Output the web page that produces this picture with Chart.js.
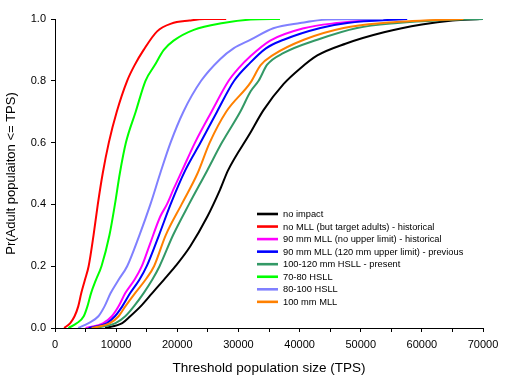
<!DOCTYPE html>
<html><head><meta charset="utf-8">
<script src="https://cdn.jsdelivr.net/npm/chart.js@4.4.0/dist/chart.umd.min.js"></script>
<style>html,body{margin:0;padding:0;background:#fff;}#wrap{width:511px;height:383px;}</style>
</head><body><div id="wrap"><canvas id="c" width="511" height="383"></canvas></div>
<script>
// ---- data ----
const seriesNames = [
  'no impact',
  'no MLL (but target adults) - historical',
  '90 mm MLL (no upper limit) - historical',
  '90 mm MLL (120 mm upper limit) - previous',
  '100-120 mm HSLL - present',
  '70-80 HSLL',
  '80-100 HSLL',
  '100 mm MLL'
];
const noImpactX = [8200, 11000, 12300, 14000, 15900, 17800, 19700, 22100, 24900, 27000, 28300, 31900, 34100, 37400, 40100, 42900, 47500, 53800, 60000, 65000, 69500];
const noImpactY = [0, 0.016, 0.038, 0.07, 0.113, 0.156, 0.2, 0.264, 0.36, 0.448, 0.51, 0.63, 0.705, 0.79, 0.84, 0.882, 0.92, 0.957, 0.982, 0.995, 1.0];
const noMllX = [1500, 2500, 3200, 3800, 4300, 4900, 5500, 6300, 7000, 7800, 8800, 10100, 11800, 13000, 14500, 16700, 19000, 22000, 24500, 28000];
const noMllY = [0, 0.016, 0.038, 0.07, 0.113, 0.156, 0.2, 0.3, 0.4, 0.5, 0.6, 0.7, 0.8, 0.85, 0.9, 0.96, 0.985, 0.995, 1.0, 1.0];
const mll90NoUpperX = [5000, 7900, 9300, 10400, 11500, 13000, 14200, 15500, 17200, 18300, 19400, 20800, 22900, 25600, 28400, 30000, 32000, 35200, 40700, 46100, 53700];
const mll90NoUpperY = [0, 0.016, 0.038, 0.07, 0.113, 0.156, 0.2, 0.27, 0.36, 0.4, 0.45, 0.51, 0.6, 0.7, 0.8, 0.84, 0.88, 0.93, 0.97, 0.987, 1.0];
const mll90Upper120X = [5500, 8500, 9800, 11000, 12300, 13800, 15000, 17000, 18900, 21300, 23800, 26500, 29300, 31900, 34500, 37400, 43400, 47800, 57600];
const mll90Upper120Y = [0, 0.016, 0.038, 0.07, 0.113, 0.156, 0.2, 0.3, 0.4, 0.51, 0.6, 0.7, 0.8, 0.858, 0.905, 0.933, 0.971, 0.987, 1.0];
const hsll100to120X = [6500, 9900, 11500, 12900, 14500, 15900, 17100, 19300, 21900, 24900, 27300, 30300, 32000, 33300, 34700, 37400, 42900, 49400, 56000, 63000, 70000];
const hsll100to120Y = [0, 0.016, 0.038, 0.07, 0.113, 0.156, 0.2, 0.3, 0.4, 0.51, 0.6, 0.7, 0.766, 0.8, 0.852, 0.89, 0.933, 0.971, 0.987, 0.996, 1.0];
const hsll70to80X = [2200, 3600, 4700, 5300, 5900, 6700, 7600, 8900, 9800, 10600, 11600, 13200, 14800, 16300, 17800, 19400, 22700, 27500, 32000, 36800];
const hsll70to80Y = [0, 0.016, 0.038, 0.07, 0.113, 0.156, 0.2, 0.3, 0.4, 0.5, 0.6, 0.7, 0.8, 0.85, 0.9, 0.93, 0.965, 0.987, 0.998, 1.0];
const hsll80to100X = [3800, 5500, 7100, 8100, 9100, 10400, 11800, 13800, 15600, 17200, 18900, 21000, 23900, 27000, 29200, 32000, 35700, 40100, 44500, 53700];
const hsll80to100Y = [0, 0.016, 0.038, 0.07, 0.113, 0.156, 0.2, 0.3, 0.4, 0.5, 0.6, 0.7, 0.8, 0.87, 0.905, 0.933, 0.97, 0.987, 0.998, 1.0];
const mll100X = [6000, 9000, 10400, 11500, 13100, 14800, 16200, 18100, 20700, 23300, 25300, 28000, 32000, 33600, 35700, 40700, 47200, 53700, 66800];
const mll100Y = [0, 0.016, 0.038, 0.07, 0.113, 0.156, 0.2, 0.3, 0.4, 0.5, 0.6, 0.7, 0.795, 0.85, 0.884, 0.933, 0.971, 0.987, 1.0];
const xTickLabels = ['0', '10000', '20000', '30000', '40000', '50000', '60000', '70000'];
const yTickLabels = ['0.0', '0.2', '0.4', '0.6', '0.8', '1.0'];

// ---- styles ----
const seriesColors = ['#000000', '#ff0000', '#ff00ff', '#0000ff', '#339966', '#00ff00', '#8080ff', '#ff8000'];
const seriesXs = [noImpactX, noMllX, mll90NoUpperX, mll90Upper120X, hsll100to120X, hsll70to80X, hsll80to100X, mll100X];
const seriesYs = [noImpactY, noMllY, mll90NoUpperY, mll90Upper120Y, hsll100to120Y, hsll70to80Y, hsll80to100Y, mll100Y];
const FONT = "'Liberation Sans', Arial, sans-serif";

const datasets = seriesNames.map((name, i) => ({
  label: name,
  data: seriesXs[i].map((x, j) => ({x: x, y: seriesYs[i][j]})),
  borderColor: seriesColors[i],
  backgroundColor: seriesColors[i],
  borderWidth: 2,
  pointRadius: 0,
  cubicInterpolationMode: 'monotone',
  fill: false,
  order: seriesNames.length - i
}));

const insideLegend = {
  id: 'insideLegend',
  afterDraw(chart) {
    const ctx = chart.ctx;
    ctx.save();
    ctx.font = "9.3px " + FONT;
    ctx.textBaseline = 'middle';
    ctx.textAlign = 'left';
    chart.data.datasets.forEach((ds, i) => {
      const y = 214 + i * 12.55;
      ctx.strokeStyle = ds.borderColor;
      ctx.lineWidth = 2.6;
      ctx.beginPath();
      ctx.moveTo(257, y);
      ctx.lineTo(278, y);
      ctx.stroke();
      ctx.fillStyle = '#000';
      ctx.fillText(ds.label, 283, y + 0.5);
    });
    ctx.restore();
  }
};

new Chart(document.getElementById('c'), {
  type: 'line',
  data: {datasets: datasets},
  plugins: [insideLegend],
  options: {
    responsive: false,
    animation: false,
    devicePixelRatio: 1,
    layout: {padding: {top: 19, right: 28, bottom: 0, left: 0}},
    plugins: {legend: {display: false}, tooltip: {enabled: false}},
    scales: {
      x: {
        type: 'linear', min: 0, max: 70000,
        afterFit(s) { s.height = 55; },
        ticks: {
          stepSize: 5000, autoSkip: false, maxRotation: 0, padding: 6,
          color: '#000', font: {family: FONT, size: 11},
          callback: (v) => (v % 10000 === 0 ? xTickLabels[v / 10000] : '')
        },
        grid: {drawOnChartArea: false, drawTicks: true, tickLength: 4, color: '#000'},
        border: {display: true, color: '#000', width: 1},
        title: {display: true, text: 'Threshold population size (TPS)', color: '#000',
                font: {family: FONT, size: 13.5}, padding: {top: 4, bottom: 7}}
      },
      y: {
        type: 'linear', min: 0, max: 1,
        afterFit(s) { s.width = 55; },
        ticks: {
          stepSize: 0.2, padding: 5, color: '#000', font: {family: FONT, size: 11},
          callback: (v) => yTickLabels[Math.round(v * 5)]
        },
        grid: {drawOnChartArea: false, drawTicks: true, tickLength: 4, color: '#000'},
        border: {display: true, color: '#000', width: 1},
        title: {display: true, text: 'Pr(Adult populaiton <= TPS)', color: '#000',
                font: {family: FONT, size: 13}, padding: {top: 4, bottom: 4}}
      }
    }
  }
});
</script>
</body></html>
